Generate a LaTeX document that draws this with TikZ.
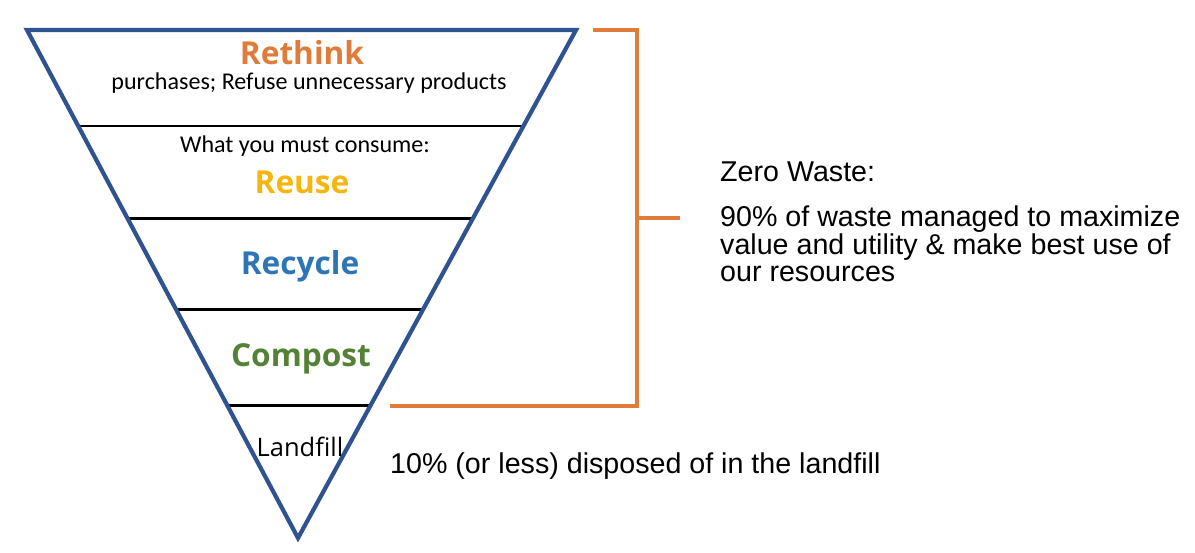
\documentclass[tikz,border=0pt]{standalone}
\usepackage{fontspec}
\setmainfont{Carlito}
\newfontfamily\titlefont{Open Sans}
\newfontfamily\notefont{Liberation Sans}
\usetikzlibrary{calc}
\definecolor{funnelblue}{HTML}{2F5290}
\definecolor{rethinkorange}{HTML}{E07B39}
\definecolor{reuseyellow}{HTML}{F5B70F}
\definecolor{recycleblue}{HTML}{2E75B6}
\definecolor{compostgreen}{HTML}{548235}
\tikzset{
  tier/.style={font=\titlefont\bfseries\fontsize{18}{20}\selectfont},
  small/.style={font=\fontsize{13.7}{15}\selectfont},
  note/.style={font=\notefont\fontsize{16.3}{15.6}\selectfont,anchor=west,align=left}
}
\begin{document}
\begin{tikzpicture}[x=0.02cm,y=-0.02cm]
  \useasboundingbox (0,0) rectangle (1195,553);
  \coordinate (tl) at (27,30);
  \coordinate (tr) at (576,30);
  \coordinate (bot) at (298,538);
  % tier dividers
  \foreach \f in {0.189,0.372,0.551,0.740} {
    \draw[black,line width=1.7pt] ($(tl)!\f!(bot)$) -- ($(tr)!\f!(bot)$);
  }
  \draw[funnelblue,line width=2.4pt,line join=miter] (tl) -- (tr) -- (bot) -- cycle;
  \node[tier,text=rethinkorange] (rethink) at (302,53) {Rethink};
  \node[small] (purchases) at (309,83) {purchases; Refuse unnecessary products};
  \node[small] (consume) at (305,146) {What you must consume:};
  \node[tier,text=reuseyellow] (reuse) at (302,182) {Reuse};
  \node[tier,text=recycleblue] (recycle) at (300,266) {Recycle};
  \node[tier,text=compostgreen] (compost) at (301,359) {Compost};
  \node[font=\titlefont\fontsize{14.5}{16}\selectfont] (landfill) at (300,447) {Landfill};
  % bracket
  \coordinate (bl) at (390,406);
  \coordinate (bc) at (637,406);
  \coordinate (tc) at (637,30);
  \coordinate (te) at (593,30);
  \coordinate (mid) at (637,218);
  \coordinate (tick) at (680,218);
  \draw[rethinkorange,line width=2.3pt] (bl) -- (bc) -- (tc) -- (te);
  \draw[rethinkorange,line width=2.3pt] (mid) -- (tick);
  \node[note] (zero) at (714,172) {Zero Waste:};
  \node[note,anchor=north west] (ninety) at (714,200) {90\% of waste managed to maximize\\value and utility \& make best use of\\our resources};
  \node[note] (ten) at (384,466) {10\% (or less) disposed of in the landfill};
\end{tikzpicture}
\end{document}
